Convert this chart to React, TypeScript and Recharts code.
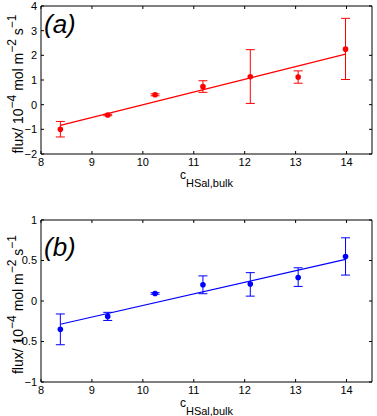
import React from 'react';
import { ComposedChart, Scatter, XAxis, YAxis, ErrorBar } from 'recharts';

const concentration = [8.38, 9.31, 10.24, 11.18, 12.11, 13.05, 13.98];

const fluxA = [-1.0, -0.42, 0.4, 0.73, 1.13, 1.12, 2.25];
const fluxALow = [-1.31, -0.45, 0.36, 0.5, 0.05, 0.87, 1.02];
const fluxAHigh = [-0.68, -0.39, 0.44, 0.97, 2.23, 1.37, 3.5];
const fitAX = [8.38, 13.98];
const fitAY = [-0.84, 2.05];

const fluxB = [-0.35, -0.19, 0.093, 0.2, 0.21, 0.29, 0.55];
const fluxBLow = [-0.54, -0.24, 0.083, 0.09, 0.06, 0.18, 0.32];
const fluxBHigh = [-0.16, -0.14, 0.103, 0.31, 0.35, 0.41, 0.78];
const fitBX = [8.38, 13.98];
const fitBY = [-0.287, 0.513];

const xTicks = [8, 9, 10, 11, 12, 13, 14];
const xDomain: [number, number] = [8, 14.5];
const yTicksA = [-2, -1, 0, 1, 2, 3, 4];
const yDomainA: [number, number] = [-2, 4];
const yTicksB = [-1, -0.5, 0, 0.5, 1];
const yDomainB: [number, number] = [-1, 1];

const FONT = '"Liberation Sans", Arial, Helvetica, sans-serif';

function buildPoints(ys: number[], lo: number[], hi: number[]) {
  return concentration.map((x, i) => ({ x, y: ys[i], err: [ys[i] - lo[i], hi[i] - ys[i]] }));
}
function buildFit(xs: number[], ys: number[]) {
  return xs.map((x, i) => ({ x, y: ys[i] }));
}

const fmt = (v: number) => String(v).replace('-', '−');

const EmptyTick = () => <g />;

function YLabel(props: any) {
  const vb = props.viewBox || {};
  const cy = vb.y + vb.height / 2 + props.shift;
  const bx = 23;
  return (
    <text
      x={bx}
      y={cy}
      transform={`rotate(-90 ${bx} ${cy})`}
      textAnchor="middle"
      fontFamily={FONT}
      fontSize={14}
      fill="#000"
    >
      <tspan>flux/ 10</tspan>
      <tspan fontSize={12} dy={-7}>−4</tspan>
      <tspan dy={7}> mol m</tspan>
      <tspan fontSize={12} dy={-7}>−2</tspan>
      <tspan dy={7}> s</tspan>
      <tspan fontSize={12} dy={-7}>−1</tspan>
    </text>
  );
}

function XLabel(props: any) {
  const vb = props.viewBox || {};
  const cx = vb.x + vb.width / 2;
  const y = vb.y + 25;
  return (
    <text x={cx} y={y} textAnchor="middle" fontFamily={FONT} fill="#000">
      <tspan fontSize={12}>c</tspan>
      <tspan fontSize={11} dy={8}>HSal,bulk</tspan>
    </text>
  );
}

interface PanelProps {
  points: any[];
  fit: any[];
  color: string;
  yDomain: [number, number];
  yTicks: number[];
  height: number;
  marginTop: number;
  bottomAxisHeight: number;
  tag: string;
  tagTop: number;
  labelShift: number;
}

function Panel(p: PanelProps) {
  const tickStyle = { fill: '#000', fontSize: 11, fontFamily: FONT };
  const dot = (s: any) => <circle cx={s.cx} cy={s.cy} r={2.8} fill={p.color} />;
  return (
    <div style={{ position: 'relative', width: 377, height: p.height }}>
      <ComposedChart
        width={377}
        height={p.height}
        margin={{ top: p.marginTop, right: 4, bottom: 0, left: 0 }}
      >
        <XAxis
          xAxisId="b"
          type="number"
          dataKey="x"
          orientation="bottom"
          domain={xDomain}
          ticks={xTicks}
          allowDataOverflow
          height={p.bottomAxisHeight}
          tickSize={-3}
          tickMargin={7}
          tick={tickStyle}
          tickFormatter={fmt}
          axisLine={{ stroke: '#000' }}
          tickLine={{ stroke: '#000' }}
          label={<XLabel />}
        />
        <XAxis
          xAxisId="t"
          type="number"
          dataKey="x"
          orientation="top"
          domain={xDomain}
          ticks={xTicks}
          allowDataOverflow
          height={1}
          tickSize={-3}
          tick={EmptyTick}
          axisLine={{ stroke: '#000' }}
          tickLine={{ stroke: '#000' }}
        />
        <YAxis
          yAxisId="l"
          type="number"
          orientation="left"
          domain={p.yDomain}
          ticks={p.yTicks}
          allowDataOverflow
          width={41}
          tickSize={-3}
          tickMargin={7}
          tick={tickStyle}
          tickFormatter={fmt}
          axisLine={{ stroke: '#000' }}
          tickLine={{ stroke: '#000' }}
          label={<YLabel shift={p.labelShift} />}
        />
        <YAxis
          yAxisId="r"
          type="number"
          orientation="right"
          domain={p.yDomain}
          ticks={p.yTicks}
          allowDataOverflow
          width={1}
          tickSize={-3}
          tick={EmptyTick}
          axisLine={{ stroke: '#000' }}
          tickLine={{ stroke: '#000' }}
        />
        <Scatter
          xAxisId="b"
          yAxisId="l"
          data={p.fit}
          dataKey="y"
          line={{ stroke: p.color, strokeWidth: 1.2 }}
          lineType="joint"
          shape={EmptyTick}
          isAnimationActive={false}
        />
        <Scatter
          xAxisId="b"
          yAxisId="l"
          data={p.points}
          dataKey="y"
          shape={dot}
          isAnimationActive={false}
        >
          <ErrorBar
            dataKey="err"
            direction="y"
            width={4.5}
            stroke={p.color}
            strokeWidth={1}
            isAnimationActive={false}
          />
        </Scatter>
      </ComposedChart>
      <svg
        width={377}
        height={p.height}
        style={{ position: 'absolute', left: 0, top: 0, pointerEvents: 'none' }}
      >
        <text
          x={44}
          y={p.tagTop}
          fontFamily={FONT}
          fontStyle="italic"
          fontSize={26}
          fill="#000"
        >
          {p.tag}
        </text>
      </svg>
    </div>
  );
}

export default function App() {
  const pointsA = buildPoints(fluxA, fluxALow, fluxAHigh);
  const pointsB = buildPoints(fluxB, fluxBLow, fluxBHigh);
  return (
    <div
      style={{
        position: 'absolute',
        left: 0,
        top: 0,
        width: 377,
        height: 416,
        background: '#fff',
        overflow: 'hidden',
        fontFamily: FONT,
      }}
    >
      <Panel
        points={pointsA}
        fit={buildFit(fitAX, fitAY)}
        color="#ff0000"
        yDomain={yDomainA}
        yTicks={yTicksA}
        height={210}
        marginTop={5}
        bottomAxisHeight={56}
        tag="(a)"
        tagTop={33}
        labelShift={4}
      />
      <Panel
        points={pointsB}
        fit={buildFit(fitBX, fitBY)}
        color="#0000ff"
        yDomain={yDomainB}
        yTicks={yTicksB}
        height={206}
        marginTop={9}
        bottomAxisHeight={34}
        tag="(b)"
        tagTop={46}
        labelShift={3.5}
      />
    </div>
  );
}
